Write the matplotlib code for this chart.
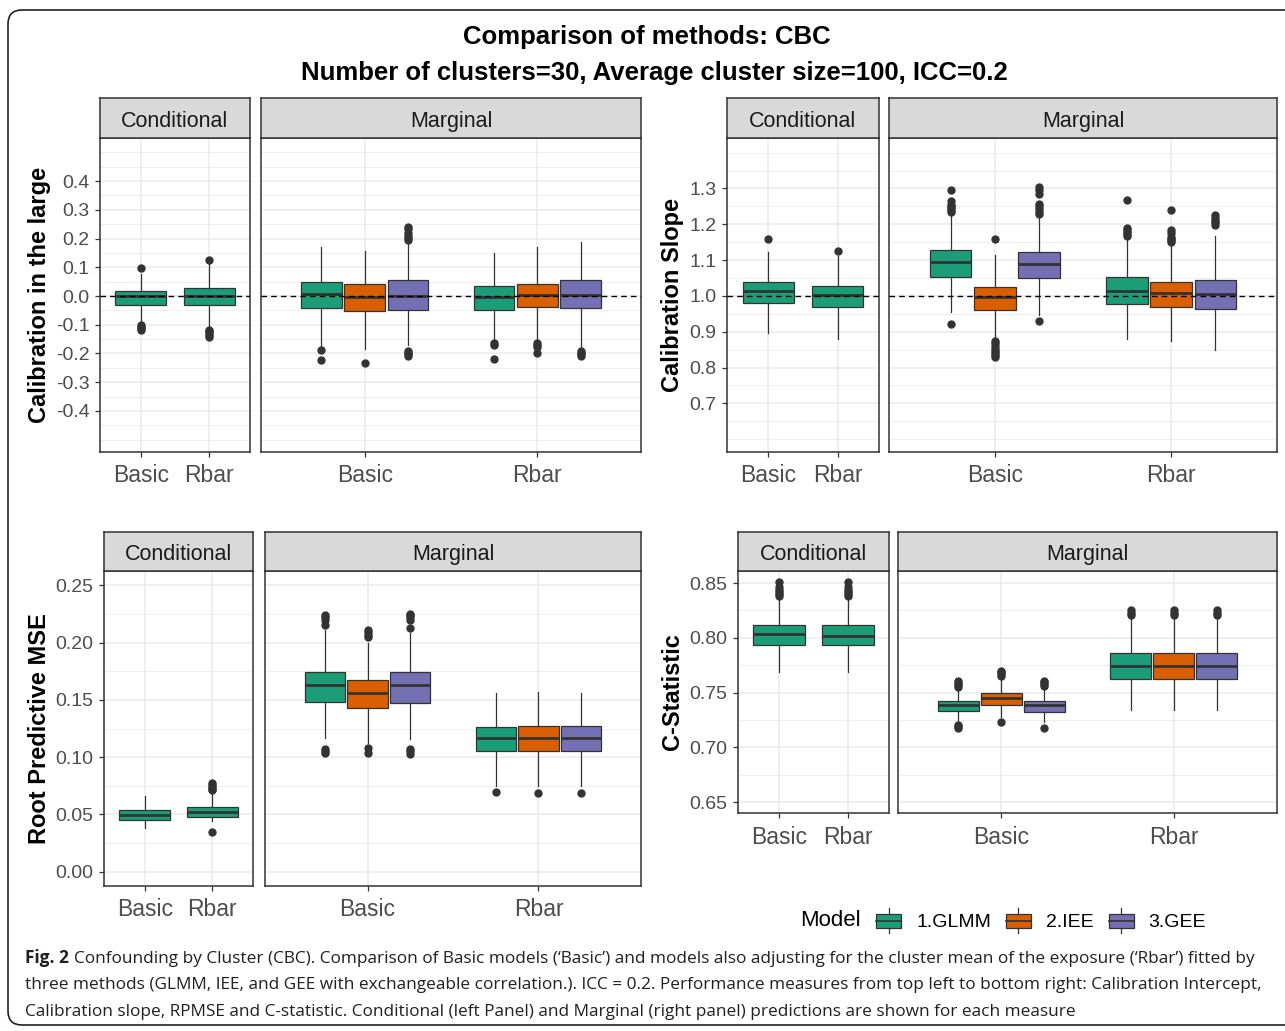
import numpy as np
import matplotlib
matplotlib.use("Agg")
import matplotlib.pyplot as plt
from matplotlib.patches import Rectangle, Patch, FancyBboxPatch
from matplotlib.lines import Line2D
from matplotlib.legend_handler import HandlerBase
from matplotlib.ticker import FormatStrFormatter
from matplotlib.transforms import IdentityTransform

plt.rcParams["font.family"] = ["Liberation Sans", "DejaVu Sans"]
plt.rcParams["axes.unicode_minus"] = False

# data: each box is [whisker low, q1, median, q3, whisker high]
groups = ["Basic", "Rbar"]
methods = ["1.GLMM", "2.IEE", "3.GEE"]
colors = ["#1B9E77", "#D95F02", "#7570B3"]

# calibration in the large
cil_cond = [[-0.090, -0.032, -0.001, 0.019, 0.078],
            [-0.107, -0.032, 0.001, 0.029, 0.110]]
cil_cond_out = [[0.097, -0.102, -0.108, -0.113, -0.118],
                [0.127, -0.117, -0.123, -0.130, -0.137, -0.143]]
cil_marg = [[[-0.178, -0.041, 0.007, 0.048, 0.170],
             [-0.184, -0.051, -0.002, 0.042, 0.156],
             [-0.172, -0.047, 0.001, 0.054, 0.185]],
            [[-0.149, -0.047, -0.003, 0.035, 0.150],
             [-0.155, -0.040, 0.002, 0.042, 0.170],
             [-0.184, -0.041, 0.003, 0.054, 0.188]]]
cil_marg_out = [[[-0.187, -0.222],
                 [-0.233],
                 [0.195, 0.203, 0.210, 0.220, 0.232, 0.240, -0.190, -0.197, -0.203, -0.210]],
                [[-0.165, -0.172, -0.218],
                 [-0.165, -0.172, -0.178, -0.200],
                 [-0.190, -0.197, -0.203, -0.210]]]

# calibration slope
cs_cond = [[0.896, 0.979, 1.015, 1.040, 1.123],
           [0.880, 0.968, 1.002, 1.029, 1.112]]
cs_cond_out = [[1.159], [1.124]]
cs_marg = [[[0.955, 1.054, 1.096, 1.127, 1.228],
            [0.882, 0.960, 0.996, 1.024, 1.114],
            [0.948, 1.050, 1.089, 1.123, 1.219]],
           [[0.880, 0.976, 1.015, 1.052, 1.163],
            [0.873, 0.968, 1.008, 1.039, 1.142],
            [0.850, 0.964, 1.004, 1.043, 1.167]]]
cs_marg_out = [[[1.235, 1.240, 1.245, 1.250, 1.255, 1.265, 1.295, 0.921],
                [1.159, 0.875, 0.868, 0.860, 0.853, 0.846, 0.840, 0.834, 0.828],
                [1.230, 1.235, 1.242, 1.250, 1.258, 1.285, 1.295, 1.305, 0.929]],
               [[1.167, 1.172, 1.178, 1.185, 1.190, 1.267],
                [1.150, 1.155, 1.160, 1.165, 1.175, 1.185, 1.240],
                [1.198, 1.205, 1.210, 1.218, 1.225]]]

# root predictive MSE
rp_cond = [[0.0380, 0.0450, 0.0497, 0.0535, 0.0657],
           [0.0440, 0.0474, 0.0525, 0.0567, 0.0695]]
rp_cond_out = [[], [0.0710, 0.0725, 0.0740, 0.0755, 0.0770, 0.0345]]
rp_marg = [[[0.117, 0.148, 0.163, 0.174, 0.211],
            [0.112, 0.143, 0.156, 0.167, 0.200],
            [0.116, 0.147, 0.163, 0.174, 0.208]],
           [[0.0745, 0.105, 0.1166, 0.126, 0.156],
            [0.0745, 0.105, 0.1166, 0.127, 0.157],
            [0.0745, 0.105, 0.1166, 0.127, 0.156]]]
rp_marg_out = [[[0.215, 0.220, 0.222, 0.224, 0.104, 0.105, 0.107],
                [0.205, 0.207, 0.209, 0.211, 0.108, 0.104],
                [0.213, 0.220, 0.222, 0.224, 0.225, 0.103, 0.105, 0.107]],
               [[0.0700], [0.0686], [0.0686]]]

# C-statistic
cst_cond = [[0.7687, 0.7937, 0.8034, 0.8113, 0.8357],
            [0.7687, 0.7937, 0.8019, 0.8113, 0.8357]]
cst_cond_out = [[0.838, 0.840, 0.842, 0.844, 0.846, 0.851],
                [0.838, 0.840, 0.842, 0.844, 0.846, 0.851]]
cst_marg = [[[0.7230, 0.7331, 0.7383, 0.7425, 0.7535],
             [0.7276, 0.7383, 0.7447, 0.7492, 0.7626],
             [0.7230, 0.7325, 0.7383, 0.7425, 0.7535]],
            [[0.7337, 0.7626, 0.7742, 0.7860, 0.8190],
             [0.7337, 0.7626, 0.7742, 0.7860, 0.8190],
             [0.7337, 0.7626, 0.7742, 0.7860, 0.8190]]]
cst_marg_out = [[[0.755, 0.757, 0.759, 0.761, 0.718, 0.719, 0.720],
                 [0.765, 0.767, 0.769, 0.770, 0.723],
                 [0.756, 0.758, 0.760, 0.761, 0.7176]],
                [[0.821, 0.823, 0.825],
                 [0.821, 0.823, 0.825],
                 [0.821, 0.823, 0.825]]]

W, H = 1285, 1031
fig = plt.figure(figsize=(W / 100, H / 100), dpi=100)
fig.patch.set_facecolor("white")

DARK = "#333333"
GRID = "#EBEBEB"


def px_axes(x0, y0, x1, y1):
    return fig.add_axes([x0 / W, 1 - y1 / H, (x1 - x0) / W, (y1 - y0) / H])


def make_stats(row, out):
    return dict(whislo=row[0], q1=row[1], med=row[2], q3=row[3], whishi=row[4], fliers=out)


def draw_boxes(ax, rows, outs, positions, width, cols):
    stats = [make_stats(r, o) for r, o in zip(rows, outs)]
    bp = ax.bxp(stats, positions=positions, widths=width, patch_artist=True,
                showcaps=False, manage_ticks=False,
                boxprops=dict(edgecolor=DARK, linewidth=0.9),
                medianprops=dict(color=DARK, linewidth=2.0),
                whiskerprops=dict(color=DARK, linewidth=0.9),
                flierprops=dict(marker="o", markerfacecolor=DARK, markeredgecolor=DARK,
                                markersize=5, linestyle="none"))
    for patch, c in zip(bp["boxes"], cols):
        patch.set_facecolor(c)


def style_panel(ax, ylim, major, minor, fmt, show_y):
    ax.set_xlim(0.4, 2.6)
    ax.set_ylim(*ylim)
    ax.set_xticks([1, 2])
    ax.set_xticklabels(groups)
    ax.set_yticks(major)
    ax.set_yticks(minor, minor=True)
    ax.yaxis.set_major_formatter(FormatStrFormatter(fmt))
    ax.grid(which="major", color=GRID, linewidth=1.1)
    ax.grid(which="minor", axis="y", color=GRID, linewidth=0.55)
    ax.set_axisbelow(True)
    for s in ax.spines.values():
        s.set_color(DARK)
        s.set_linewidth(1.1)
    ax.tick_params(axis="x", length=3.5, width=0.9, color=DARK, labelsize=16.5,
                   labelcolor="#4D4D4D", pad=5.5)
    ax.tick_params(axis="y", which="minor", length=0)
    if show_y:
        ax.tick_params(axis="y", which="major", length=3.5, width=0.9, color=DARK,
                       labelsize=14, labelcolor="#4D4D4D", pad=4)
    else:
        ax.tick_params(axis="y", which="major", length=0, labelleft=False)


def strip(x0, x1, y0, y1, label):
    sa = px_axes(x0, y0, x1, y1)
    sa.set_facecolor("#D9D9D9")
    sa.set_xticks([])
    sa.set_yticks([])
    for s in sa.spines.values():
        s.set_color(DARK)
        s.set_linewidth(1.1)
    sa.text(0.5, 0.42, label, ha="center", va="center", fontsize=15.5,
            color="#1A1A1A", transform=sa.transAxes)


def minor_ticks(lo, hi, step, major):
    vals = np.round(np.arange(lo, hi + step / 2, step), 4)
    return [v for v in vals if not np.any(np.isclose(v, major))]


def major_ticks(lo, hi, step):
    return np.round(np.arange(lo, hi + step / 2, step), 3) + 0.0


panels = [
    dict(cond=cil_cond, cond_out=cil_cond_out, marg=cil_marg, marg_out=cil_marg_out,
         label="Calibration in the large", ylim=(-0.543, 0.55),
         major=major_ticks(-0.4, 0.4, 0.1), minor=(-0.5, 0.5, 0.05),
         fmt="%.1f", ref=0.0, box=(100, 250, 261, 641, 98, 138, 452, 40)),
    dict(cond=cs_cond, cond_out=cs_cond_out, marg=cs_marg, marg_out=cs_marg_out,
         label="Calibration Slope", ylim=(0.564, 1.441),
         major=major_ticks(0.7, 1.3, 0.1), minor=(0.6, 1.4, 0.05),
         fmt="%.1f", ref=1.0, box=(727, 879, 889, 1277, 98, 138, 452, 672)),
    dict(cond=rp_cond, cond_out=rp_cond_out, marg=rp_marg, marg_out=rp_marg_out,
         label="Root Predictive MSE", ylim=(-0.0125, 0.2625),
         major=major_ticks(0.0, 0.25, 0.05), minor=(0.0, 0.25, 0.025),
         fmt="%.2f", ref=None, box=(104, 253, 265, 641, 532, 571, 886, 40)),
    dict(cond=cst_cond, cond_out=cst_cond_out, marg=cst_marg, marg_out=cst_marg_out,
         label="C-Statistic", ylim=(0.64, 0.861),
         major=major_ticks(0.65, 0.85, 0.05), minor=(0.65, 0.85, 0.025),
         fmt="%.2f", ref=None, box=(738, 889, 898, 1277, 532, 571, 813, 672)),
]

offsets = [-0.25, 0.0, 0.25]

for p in panels:
    cx0, cx1, mx0, mx1, st, top, bot, lx = p["box"]
    minor = minor_ticks(*p["minor"], p["major"])

    ax_c = px_axes(cx0, top, cx1, bot)
    draw_boxes(ax_c, p["cond"], p["cond_out"], [1, 2], 0.75, [colors[0]] * 2)
    style_panel(ax_c, p["ylim"], p["major"], minor, p["fmt"], True)

    ax_m = px_axes(mx0, top, mx1, bot)
    for gi in range(len(groups)):
        pos = [gi + 1 + o for o in offsets]
        draw_boxes(ax_m, p["marg"][gi], p["marg_out"][gi], pos, 0.235, colors)
    style_panel(ax_m, p["ylim"], p["major"], minor, p["fmt"], False)

    if p["ref"] is not None:
        for a in (ax_c, ax_m):
            a.axhline(p["ref"], color="black", linestyle=(0, (4, 3)), linewidth=1.0, zorder=5)

    strip(cx0, cx1, st, top, "Conditional")
    strip(mx0, mx1, st, top, "Marginal")

    fig.text(lx / W, 1 - (top + bot) / 2 / H, p["label"], rotation=90, ha="center",
             va="center", fontsize=17, fontweight="bold")

# titles
fig.text(647 / W, 1 - 37 / H, "Comparison of methods: CBC", ha="center", va="center",
         fontsize=18.5, fontweight="bold")
fig.text(654 / W, 1 - 73 / H, "Number of clusters=30, Average cluster size=100, ICC=0.2",
         ha="center", va="center", fontsize=18.5, fontweight="bold")


# legend with box glyphs
class BoxKey(HandlerBase):
    def create_artists(self, legend, orig_handle, xdescent, ydescent, width, height,
                       fontsize, trans):
        cx = width / 2 - xdescent
        y0 = -ydescent
        box = Rectangle((cx - width / 2, y0 + height * 0.15), width, height * 0.7,
                        facecolor=orig_handle.get_facecolor(), edgecolor=DARK,
                        linewidth=0.9, transform=trans)
        med = Line2D([cx - width / 2, cx + width / 2], [y0 + height / 2] * 2,
                     color=DARK, linewidth=1.2, transform=trans)
        w1 = Line2D([cx, cx], [y0 + height * 0.85, y0 + height * 1.15], color=DARK,
                    linewidth=0.9, transform=trans)
        w2 = Line2D([cx, cx], [y0 - height * 0.15, y0 + height * 0.15], color=DARK,
                    linewidth=0.9, transform=trans)
        return [box, med, w1, w2]


handles = [Patch(facecolor=c) for c in colors]
fig.text(800 / W, 1 - 921 / H, "Model", ha="left", va="center", fontsize=16)
fig.legend(handles, methods, handler_map={Patch: BoxKey()}, ncol=3, frameon=False,
           loc="center left", bbox_to_anchor=(876 / W, 1 - 921 / H), fontsize=14,
           handlelength=1.29, handleheight=1.18, handletextpad=0.77, columnspacing=0.77,
           borderpad=0, borderaxespad=0)

# caption
cap_kw = dict(fontsize=12.45, family=["Open Sans", "DejaVu Sans"], color="#231F20")
t0 = fig.text(25 / W, 1 - 967 / H, "Fig. 2", fontweight="bold", va="bottom", **cap_kw)
cap1 = ("Confounding by Cluster (CBC). Comparison of Basic models (\u2018Basic\u2019) and models "
        "also adjusting for the cluster mean of the exposure (\u2018Rbar\u2019) fitted by")
cap2 = ("three methods (GLMM, IEE, and GEE with exchangeable correlation.). ICC = 0.2. "
        "Performance measures from top left to bottom right: Calibration Intercept,")
cap3 = ("Calibration slope, RPMSE and C-statistic. Conditional (left Panel) and Marginal "
        "(right panel) predictions are shown for each measure")
fig.axes[0].annotate(cap1, xy=(1, 0), xycoords=t0, xytext=(4, 0), textcoords="offset points",
                     va="bottom", ha="left", annotation_clip=False, **cap_kw)
fig.text(25 / W, 1 - 993 / H, cap2, va="bottom", **cap_kw)
fig.text(25 / W, 1 - 1020 / H, cap3, va="bottom", **cap_kw)

# rounded border
border = FancyBboxPatch((8, 6), 1300, 1015, boxstyle="round,pad=0,rounding_size=14",
                        transform=IdentityTransform(), fill=False, edgecolor="#222222",
                        linewidth=1.2)
fig.patches.append(border)

fig.savefig("out.png", dpi=100)
